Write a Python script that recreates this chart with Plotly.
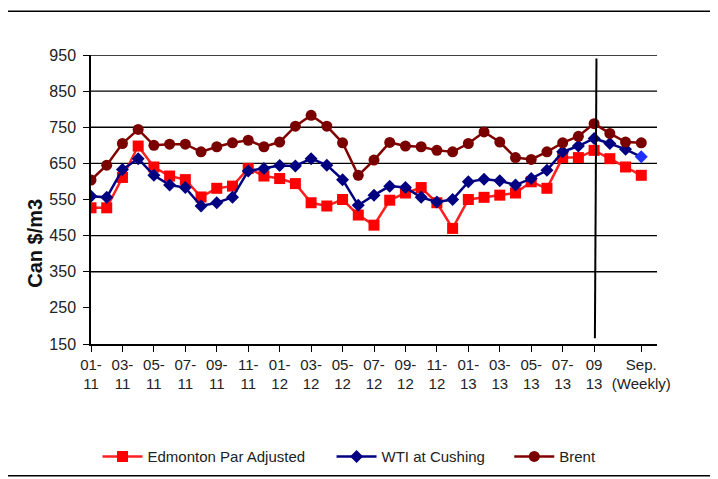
import plotly.graph_objects as go

# Categories: monthly Jan-2011 .. Sep-2013 (0..32), then weekly Sep points (33..35)
categories = list(range(36))
tick_positions = [0, 2, 4, 6, 8, 10, 12, 14, 16, 18, 20, 22, 24, 26, 28, 30, 32, 35]
tick_labels = ["01-<br>11", "03-<br>11", "05-<br>11", "07-<br>11", "09-<br>11", "11-<br>11",
               "01-<br>12", "03-<br>12", "05-<br>12", "07-<br>12", "09-<br>12", "11-<br>12",
               "01-<br>13", "03-<br>13", "05-<br>13", "07-<br>13", "09<br>13", "Sep.<br>(Weekly)"]

edmonton = [527, 527, 611, 698, 640, 615, 605, 557, 581, 587, 636, 615,
            608, 594, 541, 532, 550, 507, 479, 548, 568, 583, 541, 470,
            550, 556, 562, 568, 599, 581, 666, 666, 686, 663, 640, 617]
wti = [559, 556, 633, 663, 617, 590, 583, 532, 541, 556, 629, 636,
       644, 643, 663, 645, 605, 534, 562, 587, 583, 556, 543, 550,
       599, 606, 602, 590, 608, 631, 682, 698, 719, 705, 689, 668]
brent = [604, 645, 705, 744, 700, 703, 703, 682, 696, 707, 714, 696,
         709, 753, 783, 753, 707, 617, 659, 708, 698, 696, 686, 682,
         705, 737, 709, 666, 661, 682, 707, 725, 760, 733, 709, 707]

grid_levels = [350, 450, 650, 750, 850, 950]
FONT = "Liberation Sans, Arial, sans-serif"

wti_colors = ["#000080"] * (len(wti) - 1) + ["#1f2fff"]

fig = go.Figure()
fig.add_trace(go.Scatter(x=categories, y=edmonton, name="Edmonton Par Adjusted",
                         legend="legend",
                         mode="lines+markers", line=dict(color="#ff2020", width=2.5),
                         marker=dict(symbol="square", size=11, color="#ff0000")))
fig.add_trace(go.Scatter(x=categories, y=wti, name="WTI at Cushing",
                         legend="legend2",
                         mode="lines+markers", line=dict(color="#000080", width=2.5),
                         marker=dict(symbol="diamond", size=10, color=wti_colors)))
fig.add_trace(go.Scatter(x=categories, y=brent, name="Brent",
                         legend="legend3",
                         mode="lines+markers", line=dict(color="#800000", width=2.5),
                         marker=dict(symbol="circle", size=11, color="#7a0000")))

shapes = []
for g in grid_levels:
    shapes.append(dict(type="line", xref="paper", yref="y", x0=0, x1=1, y0=g, y1=g,
                       line=dict(color="#000000", width=1.4), layer="below"))
# separator between monthly and weekly data
shapes.append(dict(type="line", xref="x", yref="y", x0=32.15, x1=32.05, y0=940, y1=166,
                   line=dict(color="#000000", width=2)))
# outer frame
shapes.append(dict(type="rect", xref="paper", yref="paper", x0=-0.148, x1=1.097,
                   y0=-0.456, y1=1.151, line=dict(color="#000000", width=1.5)))

legend_common = dict(orientation="h", y=-0.39, xanchor="left", yanchor="middle",
                     font=dict(size=15, color="#222222"), itemwidth=40,
                     bgcolor="rgba(0,0,0,0)")

fig.update_layout(
    width=710, height=471,
    margin=dict(l=83, r=61, t=47, b=135, autoexpand=False),
    paper_bgcolor="white", plot_bgcolor="white",
    font=dict(family=FONT, color="#222222"),
    showlegend=True,
    legend=dict(x=0.0115, **legend_common),
    legend2=dict(x=0.425, **legend_common),
    legend3=dict(x=0.739, **legend_common),
    xaxis=dict(range=[0, 36], tickmode="array", tickvals=tick_positions, ticktext=tick_labels,
               ticks="outside", ticklen=6, tickcolor="#000", showgrid=False, showline=True,
               linecolor="#000", linewidth=1.5, zeroline=False, tickfont=dict(size=15),
               automargin=False),
    xaxis2=dict(overlaying="x", anchor="y", range=[0, 36], tickmode="linear", tick0=0, dtick=1,
                ticks="inside", ticklen=6, tickcolor="#000", showticklabels=False,
                showgrid=False, showline=False, zeroline=False, automargin=False),
    xaxis3=dict(overlaying="x", anchor="y", range=[0, 36], tickmode="linear", tick0=0, dtick=1,
                ticks="outside", ticklen=6, tickcolor="#000", showticklabels=False,
                showgrid=False, showline=False, zeroline=False, automargin=False),
    yaxis=dict(range=[150, 950], tick0=150, dtick=100, ticks="outside", ticklen=6,
               tickcolor="#000", showgrid=False, showline=True, linecolor="#000",
               linewidth=1.5, zeroline=False, tickfont=dict(size=16), automargin=False,
               ticklabelstandoff=4),
    yaxis2=dict(overlaying="y", side="right", anchor="x", range=[150, 950], tick0=150,
                dtick=100, ticks="outside", ticklen=6, tickcolor="#000", showgrid=False,
                showline=True, linecolor="#000", linewidth=1.5, zeroline=False,
                tickfont=dict(size=16), automargin=False, ticklabelstandoff=6),
    shapes=shapes,
    annotations=[dict(text="<b>Can $/m3</b>", xref="paper", yref="paper", x=-0.099, y=0.35,
                      xanchor="center", yanchor="middle",
                      textangle=-90, showarrow=False, font=dict(size=20, color="#111111"))],
)

fig.write_html("out.html")
